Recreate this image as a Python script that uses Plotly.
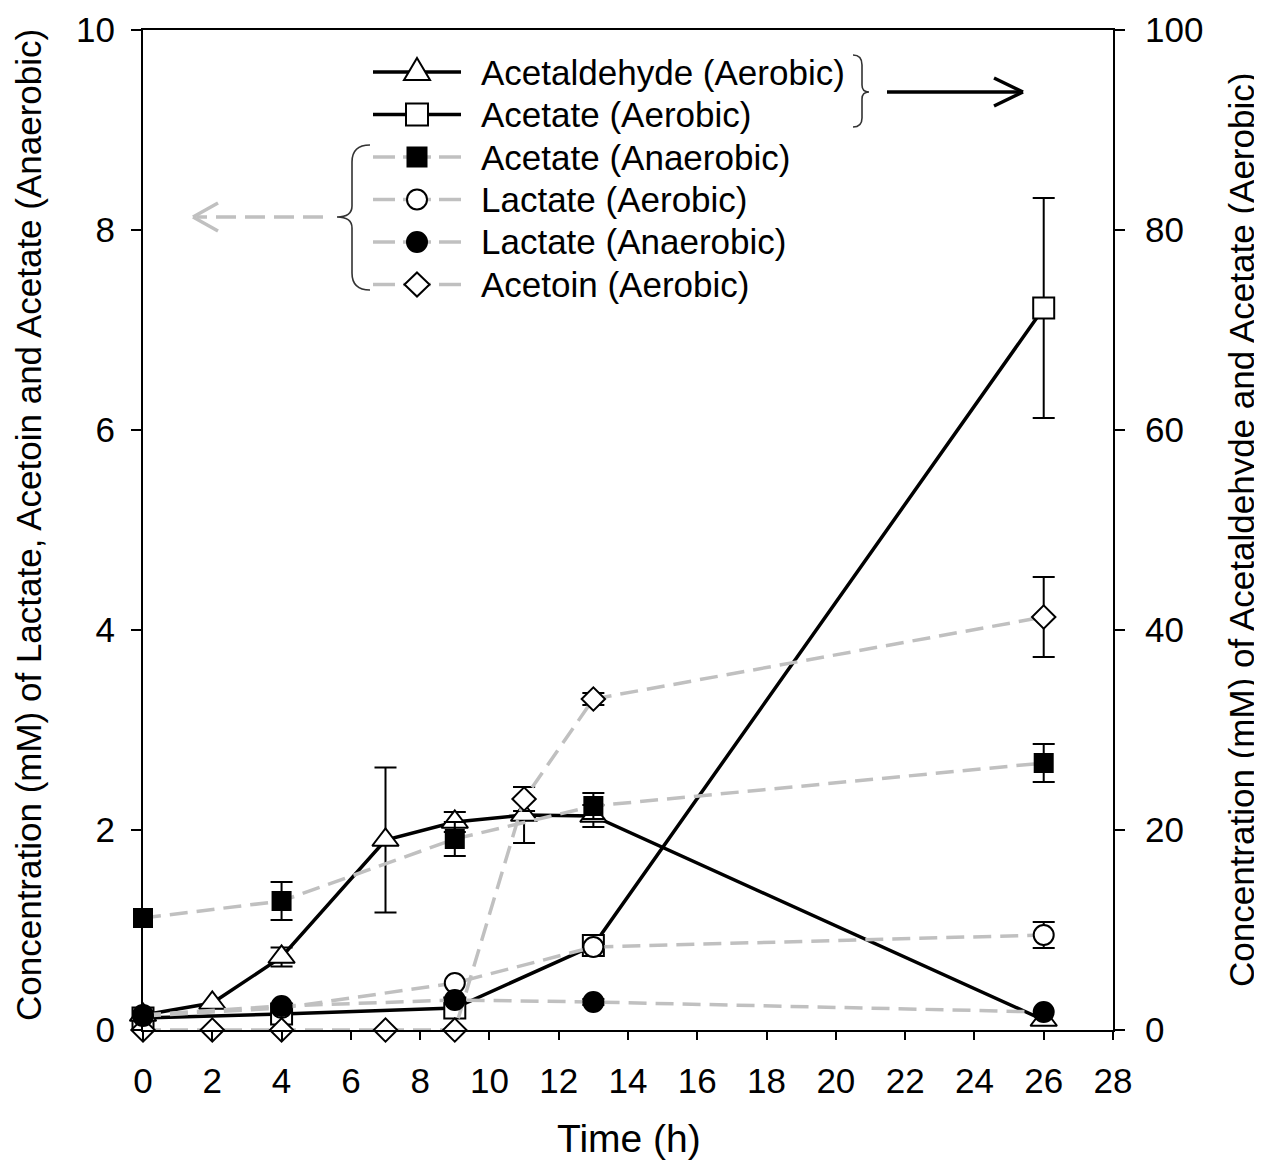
import plotly.graph_objects as go

# ---------------- data ----------------
t_long = [0, 2, 4, 7, 9, 11, 13, 26]
t_short = [0, 4, 9, 13, 26]

acetaldehyde_aer = [1.5, 2.7, 7.3, 19.0, 20.8, 21.5, 21.4, 1.0]
acetaldehyde_aer_err = [0, 0, 0.95, 7.25, 1.0, 2.8, 1.1, 0]
acetate_aer = [1.2, 1.6, 2.2, 8.45, 72.2]
acetate_aer_err = [0, 0, 0, 0, 11.0]

acetate_anaer = [1.12, 1.29, 1.91, 2.24, 2.67]
acetate_anaer_err = [0, 0.19, 0.17, 0.13, 0.19]
lactate_aer = [0.14, 0.22, 0.47, 0.83, 0.95]
lactate_aer_err = [0, 0, 0, 0, 0.13]
lactate_anaer = [0.15, 0.24, 0.30, 0.28, 0.18]
lactate_anaer_err = [0, 0, 0, 0.03, 0]
acetoin_aer = [0, 0, 0, 0, 0, 2.31, 3.31, 4.13]
acetoin_aer_err = [0, 0, 0, 0, 0, 0.12, 0.06, 0.40]

x_ticks = list(range(0, 29, 2))
left_ticks = [0, 2, 4, 6, 8, 10]
right_ticks = [0, 20, 40, 60, 80, 100]

legend_labels = ["Acetaldehyde (Aerobic)", "Acetate (Aerobic)", "Acetate (Anaerobic)",
                 "Lactate (Aerobic)", "Lactate (Anaerobic)", "Acetoin (Aerobic)"]

x_title = "Time (h)"
left_title = "Concentration (mM) of Lactate, Acetoin and Acetate (Anaerobic)"
right_title = "Concentration (mM) of Acetaldehyde and Acetate (Aerobic)"

# ---------------- style ----------------
FONT = "Liberation Sans, Arial, Helvetica, sans-serif"
GRAY = "#c0c0c0"
DASH = "18px,9px"
OFF = 8  # page body margin
W, H = 1262 - OFF, 1160 - OFF
ML, MT = 143 - OFF, 30 - OFF
PW, PH = 970, 1000
MR, MB = W - ML - PW, H - MT - PH


def X(px):
    # px: screen pixel x -> paper fraction
    return (px - OFF - ML) / PW


def Y(py):
    return (H - MB - (py - OFF)) / PH


fig = go.Figure()


def add_series(x, y, err, yaxis, color, dash, symbol, size, fill):
    ex = [a for a, e in zip(x, err) if e > 0]
    ey = [b for b, e in zip(y, err) if e > 0]
    ee = [e for e in err if e > 0]
    if ex:
        fig.add_trace(go.Scatter(
            x=ex, y=ey, mode="markers", yaxis=yaxis, cliponaxis=False,
            marker=dict(size=2, opacity=0), hoverinfo="skip", showlegend=False,
            error_y=dict(type="data", array=ee, color="black", thickness=2, width=11)))
    fig.add_trace(go.Scatter(
        x=x, y=y, mode="lines+markers", yaxis=yaxis, cliponaxis=False, showlegend=False,
        line=dict(color=color, width=3.5, dash=dash),
        marker=dict(symbol=symbol, size=size, color=fill, line=dict(color="black", width=2))))


# right axis (primary y) series
add_series(t_short, acetate_aer, acetate_aer_err, "y", "black", "solid", "square", 21, "white")
add_series(t_long, acetaldehyde_aer, acetaldehyde_aer_err, "y", "black", "solid", "triangle-up", 23, "white")
# left axis (overlay y2) series
add_series(t_long, acetoin_aer, acetoin_aer_err, "y2", GRAY, DASH, "diamond", 18, "white")
add_series(t_short, acetate_anaer, acetate_anaer_err, "y2", GRAY, DASH, "square", 18, "black")
add_series(t_short, lactate_aer, lactate_aer_err, "y2", GRAY, DASH, "circle", 20, "white")
add_series(t_short, lactate_anaer, lactate_anaer_err, "y2", GRAY, DASH, "circle", 20, "black")

axis_common = dict(showgrid=False, zeroline=False, showline=True, linewidth=2, linecolor="black",
                   ticks="outside", tickwidth=2, tickcolor="black", automargin=False,
                   tickfont=dict(family=FONT, size=35, color="black"))

fig.update_layout(
    width=W, height=H,
    margin=dict(l=ML, r=MR, t=MT, b=MB, autoexpand=False),
    paper_bgcolor="white", plot_bgcolor="white",
    showlegend=False,
    font=dict(family=FONT, color="black"),
    xaxis=dict(range=[0, 28], tickvals=x_ticks, ticklen=8, mirror=True,
               ticklabelstandoff=11, **axis_common),
    yaxis=dict(side="right", range=[0, 100], tickvals=right_ticks, ticklen=10,
               ticklabelstandoff=13, **axis_common),
    yaxis2=dict(overlaying="y", side="left", range=[0, 10], tickvals=left_ticks, ticklen=10,
                ticklabelstandoff=9, **axis_common),
)

annotations = [
    dict(x=X(629), y=Y(1138), xref="paper", yref="paper", text=x_title, showarrow=False,
         xanchor="center", yanchor="middle", font=dict(size=39)),
    dict(x=X(28), y=Y(525), xref="paper", yref="paper", text=left_title, showarrow=False,
         textangle=-90, xanchor="center", yanchor="middle", font=dict(size=35)),
    dict(x=X(1241), y=Y(530), xref="paper", yref="paper", text=right_title, showarrow=False,
         textangle=-90, xanchor="center", yanchor="middle", font=dict(size=35)),
]

# ---------------- manual legend ----------------
rows = [72, 114.5, 157, 199.5, 242, 284.5]
mx = 417
shapes = []
for i, (r, lab) in enumerate(zip(rows, legend_labels)):
    annotations.append(dict(x=X(479), y=Y(r), xref="paper", yref="paper", text=lab,
                            showarrow=False, xanchor="left", yanchor="middle",
                            font=dict(size=35)))
    if i < 2:
        shapes.append(dict(type="line", xref="paper", yref="paper", x0=X(373), x1=X(461),
                           y0=Y(r), y1=Y(r), line=dict(color="black", width=3.5)))
    else:
        for a, b in [(373, 395), (403, 431), (439, 461)]:
            shapes.append(dict(type="line", xref="paper", yref="paper", x0=X(a), x1=X(b),
                               y0=Y(r), y1=Y(r), line=dict(color=GRAY, width=3.5)))

def rect(r, half, fill):
    return dict(type="rect", xref="paper", yref="paper", x0=X(mx - half), x1=X(mx + half),
                y0=Y(r + half), y1=Y(r - half), fillcolor=fill, line=dict(color="black", width=2))

def circ(r, rad, fill):
    return dict(type="circle", xref="paper", yref="paper", x0=X(mx - rad), x1=X(mx + rad),
                y0=Y(r + rad), y1=Y(r - rad), fillcolor=fill, line=dict(color="black", width=2))

def poly(pts, fill):
    p = "M " + " L ".join(f"{X(a)},{Y(b)}" for a, b in pts) + " Z"
    return dict(type="path", xref="paper", yref="paper", path=p, fillcolor=fill,
                line=dict(color="black", width=2))

shapes.append(poly([(mx, rows[0] - 14), (mx + 13, rows[0] + 8), (mx - 13, rows[0] + 8)], "white"))
shapes.append(rect(rows[1], 11, "white"))
shapes.append(rect(rows[2], 9.5, "black"))
shapes.append(circ(rows[3], 10, "white"))
shapes.append(circ(rows[4], 10, "black"))
r6 = rows[5]
shapes.append(poly([(mx, r6 - 12), (mx + 12.5, r6), (mx, r6 + 12), (mx - 12.5, r6)], "white"))

# braces
def path_shape(cmds, color, width, dash="solid"):
    parts = []
    for c, pts in cmds:
        parts.append(c + " " + " ".join(f"{X(a)},{Y(b)}" for a, b in pts))
    return dict(type="path", xref="paper", yref="paper", path=" ".join(parts),
                line=dict(color=color, width=width, dash=dash))

shapes.append(path_shape([
    ("M", [(370, 145)]), ("Q", [(352, 145), (352, 162)]), ("L", [(352, 206)]),
    ("Q", [(352, 217), (337, 217)]), ("Q", [(352, 217), (352, 228)]), ("L", [(352, 273)]),
    ("Q", [(352, 290), (370, 290)])], "#333333", 1.6))
shapes.append(path_shape([
    ("M", [(853, 55)]), ("Q", [(862, 55), (862, 65)]), ("L", [(862, 85)]),
    ("Q", [(862, 92), (869, 92)]), ("Q", [(862, 92), (862, 99)]), ("L", [(862, 118)]),
    ("Q", [(862, 127), (853, 127)])], "#333333", 1.6))

# arrows
shapes.append(dict(type="line", xref="paper", yref="paper", x0=X(323), x1=X(197), y0=Y(217), y1=Y(217),
                   line=dict(color=GRAY, width=3.5, dash="20px,9px")))
for dy in (-14, 14):
    shapes.append(dict(type="line", xref="paper", yref="paper", x0=X(193), x1=X(218),
                       y0=Y(217), y1=Y(217 + dy), line=dict(color=GRAY, width=3.5)))
shapes.append(dict(type="line", xref="paper", yref="paper", x0=X(887), x1=X(1021), y0=Y(92), y1=Y(92),
                   line=dict(color="black", width=3.5)))
for dy in (-14, 14):
    shapes.append(dict(type="line", xref="paper", yref="paper", x0=X(1023), x1=X(994),
                       y0=Y(92), y1=Y(92 + dy), line=dict(color="black", width=3.5)))

fig.update_layout(annotations=annotations, shapes=shapes)
fig.write_html("out.html")
